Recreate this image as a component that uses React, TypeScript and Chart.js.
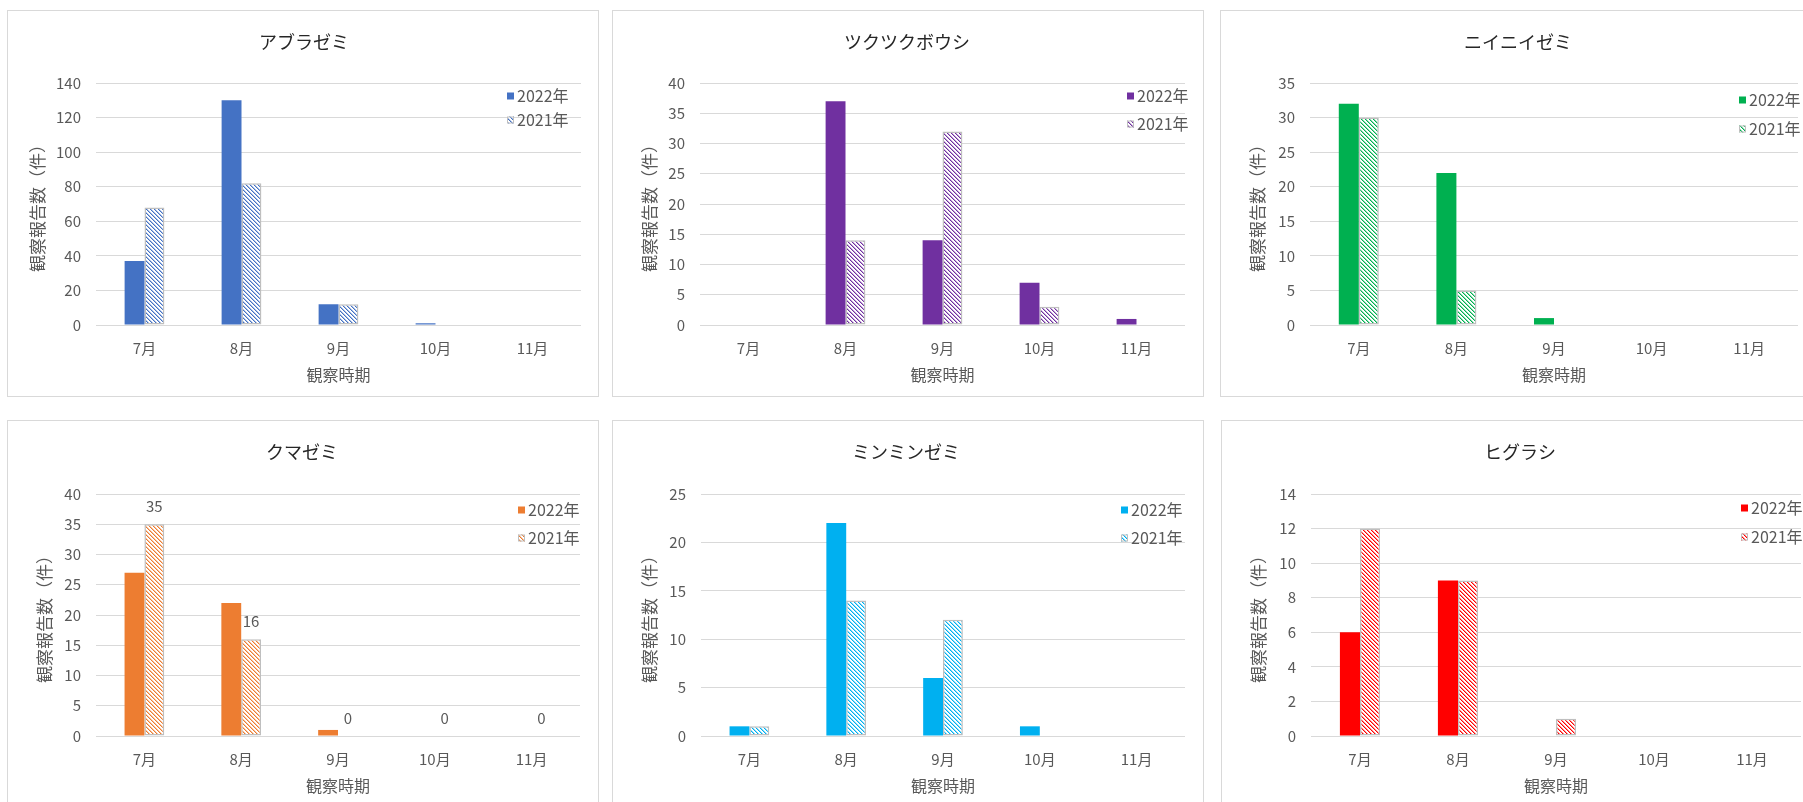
import React, { useEffect, useRef } from "react";
import { Chart, registerables } from "chart.js";

Chart.register(...registerables);

const FONT = '"Noto Sans CJK JP", "Noto Sans", sans-serif';
const TEXT = "#595959";
const TITLE_TEXT = "#262626";
const GRID = "#D9D9D9";
const HATCH_BORDER = "#BFBFBF";

// ---- chart data ----
const months = ["7月", "8月", "9月", "10月", "11月"];
const seriesLabels = ["2022年", "2021年"];
const xAxisTitle = "観察時期";
const yAxisTitle = "観察報告数（件）";

const speciesNames = ["アブラゼミ", "ツクツクボウシ", "ニイニイゼミ", "クマゼミ", "ミンミンゼミ", "ヒグラシ"];

const aburazemi2022 = [37, 130, 12, 1, 0];
const aburazemi2021 = [68, 82, 12, 0, 0];
const tsukutsukuboushi2022 = [0, 37, 14, 7, 1];
const tsukutsukuboushi2021 = [0, 14, 32, 3, 0];
const niiniizemi2022 = [32, 22, 1, 0, 0];
const niiniizemi2021 = [30, 5, 0, 0, 0];
const kumazemi2022 = [27, 22, 1, 0, 0];
const kumazemi2021 = [35, 16, 0, 0, 0];
const minminzemi2022 = [1, 22, 6, 1, 0];
const minminzemi2021 = [1, 14, 12, 0, 0];
const higurashi2022 = [6, 9, 0, 0, 0];
const higurashi2021 = [12, 9, 1, 0, 0];

const yAxisMax = [140, 40, 35, 40, 25, 14];
const yAxisStep = [20, 5, 5, 5, 5, 2];
const speciesColors = ["#4472C4", "#7030A0", "#00B050", "#ED7D31", "#00B0F0", "#FF0000"];

// ---- panel geometry (canvas-relative) ----
const CW = 590;
const CH = 385;

type Frame = {
  left: number;
  top: number;
  plotL: number;
  plotR: number;
  plotT: number;
  plotB: number;
  titleCX: number;
  titleY: number;
  yTitleX: number;
  catY: number;
  xTitleY: number;
  keyX: number;
  rows: [number, number];
};

const frames: Frame[] = [
  { left: 7, top: 10, plotL: 88, plotR: 573, plotT: 72, plotB: 314, titleCX: 296, titleY: 31, yTitleX: 29, catY: 337, xTitleY: 364, keyX: 499, rows: [85, 109] },
  { left: 612, top: 10, plotL: 87, plotR: 572, plotT: 72, plotB: 314, titleCX: 294, titleY: 31, yTitleX: 37, catY: 337, xTitleY: 364, keyX: 514, rows: [85, 113] },
  { left: 1220, top: 10, plotL: 89, plotR: 577, plotT: 72, plotB: 314, titleCX: 297, titleY: 31, yTitleX: 37, catY: 337, xTitleY: 364, keyX: 518, rows: [89, 118] },
  { left: 7, top: 420, plotL: 88, plotR: 572, plotT: 73, plotB: 315, titleCX: 294, titleY: 31, yTitleX: 37, catY: 338, xTitleY: 365, keyX: 510, rows: [89, 117] },
  { left: 612, top: 420, plotL: 88, plotR: 572, plotT: 73, plotB: 315, titleCX: 293, titleY: 31, yTitleX: 37, catY: 338, xTitleY: 365, keyX: 508, rows: [89, 117] },
  { left: 1221, top: 420, plotL: 89, plotR: 579, plotT: 73, plotB: 315, titleCX: 298, titleY: 31, yTitleX: 37, catY: 338, xTitleY: 365, keyX: 519, rows: [87, 116] },
];

type Panel = {
  name: string;
  current: number[];
  previous: number[];
  color: string;
  max: number;
  step: number;
  labelPrevious: boolean;
  frame: Frame;
};

const panels: Panel[] = [
  { name: speciesNames[0], current: aburazemi2022, previous: aburazemi2021, color: speciesColors[0], max: yAxisMax[0], step: yAxisStep[0], labelPrevious: false, frame: frames[0] },
  { name: speciesNames[1], current: tsukutsukuboushi2022, previous: tsukutsukuboushi2021, color: speciesColors[1], max: yAxisMax[1], step: yAxisStep[1], labelPrevious: false, frame: frames[1] },
  { name: speciesNames[2], current: niiniizemi2022, previous: niiniizemi2021, color: speciesColors[2], max: yAxisMax[2], step: yAxisStep[2], labelPrevious: false, frame: frames[2] },
  { name: speciesNames[3], current: kumazemi2022, previous: kumazemi2021, color: speciesColors[3], max: yAxisMax[3], step: yAxisStep[3], labelPrevious: true, frame: frames[3] },
  { name: speciesNames[4], current: minminzemi2022, previous: minminzemi2021, color: speciesColors[4], max: yAxisMax[4], step: yAxisStep[4], labelPrevious: false, frame: frames[4] },
  { name: speciesNames[5], current: higurashi2022, previous: higurashi2021, color: speciesColors[5], max: yAxisMax[5], step: yAxisStep[5], labelPrevious: false, frame: frames[5] },
];

// Downward-diagonal hatch: thin coloured stripes on white.
function hatchPattern(color: string): CanvasPattern | string {
  const tile = document.createElement("canvas");
  tile.width = 4;
  tile.height = 4;
  const c = tile.getContext("2d");
  if (!c) return color;
  c.fillStyle = "#FFFFFF";
  c.fillRect(0, 0, 4, 4);
  for (let y = 0; y < 4; y++) {
    for (let x = 0; x < 4; x++) {
      const k = (((x - y) % 4) + 4) % 4;
      if (k === 0) {
        c.globalAlpha = 1;
        c.fillStyle = color;
        c.fillRect(x, y, 1, 1);
      } else if (k === 1) {
        c.globalAlpha = 0.45;
        c.fillStyle = color;
        c.fillRect(x, y, 1, 1);
      }
    }
  }
  c.globalAlpha = 1;
  return c.createPattern(tile, "repeat") || color;
}

// Legend drawn inside the top-right of the plot.
const cornerLegend = {
  id: "cornerLegend",
  afterDraw(chart: any, _args: any, opts: any) {
    const { ctx } = chart;
    chart.data.datasets.forEach((ds: any, i: number) => {
      const y = opts.rows[i];
      ctx.save();
      ctx.fillStyle = ds.backgroundColor;
      ctx.fillRect(opts.x, y - 3.5, 7, 7);
      if (ds.borderWidth) {
        ctx.strokeStyle = ds.borderColor;
        ctx.lineWidth = 1;
        ctx.strokeRect(opts.x + 0.5, y - 3, 6, 6);
      }
      ctx.fillStyle = TEXT;
      ctx.font = `16px ${FONT}`;
      ctx.textAlign = "left";
      ctx.textBaseline = "middle";
      ctx.fillText(ds.label, opts.x + 10, y);
      ctx.restore();
    });
  },
};

// Value labels above the bars of selected datasets.
const barValues = {
  id: "barValues",
  afterDatasetsDraw(chart: any, _args: any, opts: any) {
    const list: number[] = opts.datasets || [];
    const { ctx } = chart;
    list.forEach((di) => {
      const ds = chart.data.datasets[di];
      const meta = chart.getDatasetMeta(di);
      meta.data.forEach((bar: any, j: number) => {
        const v = ds.data[j];
        if (v === null || v === undefined) return;
        ctx.save();
        ctx.fillStyle = TEXT;
        ctx.font = `15px ${FONT}`;
        ctx.textAlign = "center";
        ctx.textBaseline = "middle";
        ctx.fillText(String(v), bar.x, bar.y - 18);
        ctx.restore();
      });
    });
  },
};

function CicadaChart({ panel }: { panel: Panel }) {
  const ref = useRef<HTMLCanvasElement>(null);

  useEffect(() => {
    const canvas = ref.current;
    if (!canvas) return;
    const f = panel.frame;
    const padR = CW - f.plotR;
    const padL = Math.max(0, 2 * f.titleCX - CW + padR);
    const titleLH = 18 * 1.2;
    const xTitleLH = 16 * 1.2;
    const yTitleLH = 17 * 1.2;
    const tickLH = 15 * 1.2;

    const chart = new Chart(canvas, {
      type: "bar",
      data: {
        labels: months,
        datasets: [
          {
            label: seriesLabels[0],
            data: panel.current,
            backgroundColor: panel.color,
            borderWidth: 0,
          },
          {
            label: seriesLabels[1],
            data: panel.previous,
            backgroundColor: hatchPattern(panel.color),
            borderColor: HATCH_BORDER,
            borderWidth: 1.5,
            borderSkipped: false,
          },
        ],
      },
      options: {
        responsive: false,
        animation: false,
        events: [],
        layout: { padding: { left: padL, right: padR, top: 0, bottom: 0 } },
        datasets: { bar: { categoryPercentage: 0.41, barPercentage: 1 } },
        plugins: {
          legend: { display: false },
          tooltip: { enabled: false },
          title: {
            display: true,
            text: panel.name,
            color: TITLE_TEXT,
            font: { family: FONT, size: 18, weight: "normal" },
            padding: { top: f.titleY - titleLH / 2, bottom: f.plotT - f.titleY - titleLH / 2 },
          },
          cornerLegend: { x: f.keyX, rows: f.rows },
          barValues: { datasets: panel.labelPrevious ? [1] : [] },
        } as any,
        scales: {
          x: {
            grid: { display: false, drawTicks: false },
            border: { display: false },
            ticks: {
              color: TEXT,
              font: { family: FONT, size: 15 },
              padding: f.catY - f.plotB - tickLH / 2,
              maxRotation: 0,
            },
            title: {
              display: true,
              text: xAxisTitle,
              color: TEXT,
              font: { family: FONT, size: 16 },
              padding: { top: 0, bottom: CH - f.xTitleY - xTitleLH / 2 },
            },
            afterFit: (s: any) => {
              s.height = CH - f.plotB;
            },
          },
          y: {
            min: 0,
            max: panel.max,
            grid: { color: GRID, lineWidth: 1, drawTicks: false },
            border: { display: false },
            ticks: {
              stepSize: panel.step,
              color: TEXT,
              font: { family: FONT, size: 15 },
              padding: 15,
            },
            title: {
              display: true,
              text: yAxisTitle,
              color: TEXT,
              font: { family: FONT, size: 17 },
              padding: { top: Math.max(0, f.yTitleX - padL - yTitleLH / 2), bottom: 0 },
            },
            afterFit: (s: any) => {
              s.width = f.plotL - padL;
            },
          },
        },
      },
      plugins: [cornerLegend, barValues],
    } as any);

    return () => chart.destroy();
  }, [panel]);

  const f = panel.frame;
  return (
    <div
      style={{
        position: "absolute",
        left: f.left,
        top: f.top,
        width: CW + 2,
        height: CH + 2,
        boxSizing: "border-box",
        border: `1px solid ${GRID}`,
        background: "#FFFFFF",
      }}
    >
      <canvas ref={ref} width={CW} height={CH} style={{ display: "block", width: CW, height: CH }} />
    </div>
  );
}

export default function App() {
  return (
    <div
      style={{
        position: "absolute",
        left: 0,
        top: 0,
        width: 1803,
        height: 802,
        overflow: "hidden",
        background: "#FFFFFF",
        fontFamily: FONT,
      }}
    >
      {panels.map((p) => (
        <CicadaChart key={p.name} panel={p} />
      ))}
    </div>
  );
}
